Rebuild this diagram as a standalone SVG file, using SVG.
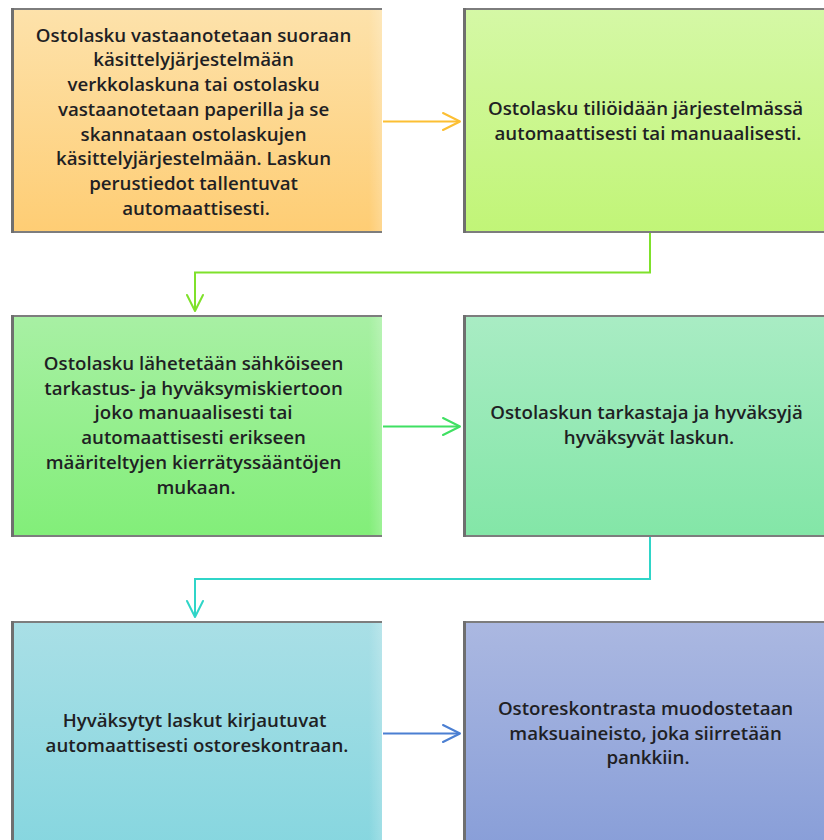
<svg xmlns="http://www.w3.org/2000/svg" width="824" height="840" viewBox="0 0 824 840">
  <style>
    .box-edge { fill: none; stroke: #7d7d7d; stroke-width: 2; }
    .box-left { fill: none; stroke: #6f6f6f; stroke-width: 3; }
    .label { font-family: "Open Sans", "Noto Sans", "DejaVu Sans", sans-serif; font-size: 18.7px; font-weight: 600; fill: #1f1f24; text-anchor: middle; }
    .conn { fill: none; stroke-width: 2; stroke-linejoin: miter; }
    .head { fill: none; stroke-width: 2; stroke-linecap: round; stroke-linejoin: round; }
  </style>
  <defs>
    <linearGradient id="gOrange" x1="0" y1="0" x2="0" y2="1">
      <stop offset="0" stop-color="#fde2ab"/>
      <stop offset="1" stop-color="#fecd74"/>
    </linearGradient>
    <linearGradient id="gLime" x1="0" y1="0" x2="0" y2="1">
      <stop offset="0" stop-color="#d5f8a6"/>
      <stop offset="1" stop-color="#c1f577"/>
    </linearGradient>
    <linearGradient id="gGreen" x1="0" y1="0" x2="0" y2="1">
      <stop offset="0" stop-color="#a8f0a4"/>
      <stop offset="1" stop-color="#82ee79"/>
    </linearGradient>
    <linearGradient id="gMint" x1="0" y1="0" x2="0" y2="1">
      <stop offset="0" stop-color="#a9ecc4"/>
      <stop offset="1" stop-color="#83e6a7"/>
    </linearGradient>
    <linearGradient id="gCyan" x1="0" y1="0" x2="0" y2="1">
      <stop offset="0" stop-color="#a9dfe6"/>
      <stop offset="1" stop-color="#86d6df"/>
    </linearGradient>
    <linearGradient id="gBlue" x1="0" y1="0" x2="0" y2="1">
      <stop offset="0" stop-color="#abb8e1"/>
      <stop offset="1" stop-color="#889ed8"/>
    </linearGradient>
    <!-- faint light band along the right edge of the left column -->
    <linearGradient id="gSheen" x1="0" y1="0" x2="1" y2="0">
      <stop offset="0.965" stop-color="#ffffff" stop-opacity="0"/>
      <stop offset="1" stop-color="#ffffff" stop-opacity="0.2"/>
    </linearGradient>
  </defs>

  <rect width="824" height="840" fill="#ffffff"/>

  <!-- connectors -->
  <g id="connectors">
    <g stroke="#fcbf33">
      <path class="conn" d="M383 121.5 H459"/>
      <path class="head" d="M443 113 L460 121.5 L443 130"/>
    </g>
    <g stroke="#7fe12b">
      <path class="conn" d="M650 233 V272.5 H195 V311"/>
      <path class="head" d="M187 295 L195 311 L203 295"/>
    </g>
    <g stroke="#3fe062">
      <path class="conn" d="M383 426.5 H459"/>
      <path class="head" d="M443 418 L460 426.5 L443 435"/>
    </g>
    <g stroke="#2fd5c8">
      <path class="conn" d="M650 537 V579 H195 V617"/>
      <path class="head" d="M187 601 L195 617 L203 601"/>
    </g>
    <g stroke="#4b7fd2">
      <path class="conn" d="M383 733.5 H459"/>
      <path class="head" d="M443 725 L460 733.5 L443 742"/>
    </g>
  </g>

  <!-- step 1 -->
  <g id="node-receive">
    <rect x="11" y="8" width="371" height="225" fill="url(#gOrange)"/>
    <rect x="11" y="8" width="371" height="225" fill="url(#gSheen)"/>
    <path class="box-edge" d="M382 9 H12 V232 H382"/>
    <path class="box-left" d="M12.5 8 V233"/>
    <text class="label">
      <tspan x="196" y="41.5">Ostolasku vastaanotetaan suoraan</tspan>
      <tspan x="196" y="66.2">käsittelyjärjestelmään</tspan>
      <tspan x="196" y="91">verkkolaskuna tai ostolasku</tspan>
      <tspan x="196" y="115.7">vastaanotetaan paperilla ja se</tspan>
      <tspan x="196" y="140.5">skannataan ostolaskujen</tspan>
      <tspan x="196" y="165.2">käsittelyjärjestelmään. Laskun</tspan>
      <tspan x="196" y="190">perustiedot tallentuvat</tspan>
      <tspan x="196" y="214.7">automaattisesti.</tspan>
    </text>
  </g>

  <!-- step 2 -->
  <g id="node-posting">
    <rect x="463" y="8" width="371" height="225" fill="url(#gLime)"/>
    <path class="box-edge" d="M834 9 H464 V232 H834"/>
    <path class="box-left" d="M464.5 8 V233"/>
    <text class="label">
      <tspan x="648" y="115">Ostolasku tiliöidään järjestelmässä</tspan>
      <tspan x="648" y="139.5">automaattisesti tai manuaalisesti.</tspan>
    </text>
  </g>

  <!-- step 3 -->
  <g id="node-circulation">
    <rect x="11" y="315" width="371" height="222" fill="url(#gGreen)"/>
    <rect x="11" y="315" width="371" height="222" fill="url(#gSheen)"/>
    <path class="box-edge" d="M382 316 H12 V536 H382"/>
    <path class="box-left" d="M12.5 315 V537"/>
    <text class="label">
      <tspan x="196" y="370">Ostolasku lähetetään sähköiseen</tspan>
      <tspan x="196" y="394.7">tarkastus- ja hyväksymiskiertoon</tspan>
      <tspan x="196" y="419.4">joko manuaalisesti tai</tspan>
      <tspan x="196" y="444.1">automaattisesti erikseen</tspan>
      <tspan x="196" y="468.8">määriteltyjen kierrätyssääntöjen</tspan>
      <tspan x="196" y="493.5">mukaan.</tspan>
    </text>
  </g>

  <!-- step 4 -->
  <g id="node-approval">
    <rect x="463" y="315" width="371" height="222" fill="url(#gMint)"/>
    <path class="box-edge" d="M834 316 H464 V536 H834"/>
    <path class="box-left" d="M464.5 315 V537"/>
    <text class="label">
      <tspan x="649" y="419">Ostolaskun tarkastaja ja hyväksyjä</tspan>
      <tspan x="649" y="443.7">hyväksyvät laskun.</tspan>
    </text>
  </g>

  <!-- step 5 -->
  <g id="node-ledger">
    <rect x="11" y="621" width="371" height="229" fill="url(#gCyan)"/>
    <rect x="11" y="621" width="371" height="229" fill="url(#gSheen)"/>
    <path class="box-edge" d="M382 622 H12 V850"/>
    <path class="box-left" d="M12.5 621 V850"/>
    <text class="label">
      <tspan x="197" y="727">Hyväksytyt laskut kirjautuvat</tspan>
      <tspan x="197" y="751.7">automaattisesti ostoreskontraan.</tspan>
    </text>
  </g>

  <!-- step 6 -->
  <g id="node-payment">
    <rect x="463" y="621" width="371" height="229" fill="url(#gBlue)"/>
    <path class="box-edge" d="M834 622 H464 V850"/>
    <path class="box-left" d="M464.5 621 V850"/>
    <text class="label">
      <tspan x="648" y="715">Ostoreskontrasta muodostetaan</tspan>
      <tspan x="648" y="739.7">maksuaineisto, joka siirretään</tspan>
      <tspan x="648" y="764.4">pankkiin.</tspan>
    </text>
  </g>
</svg>
